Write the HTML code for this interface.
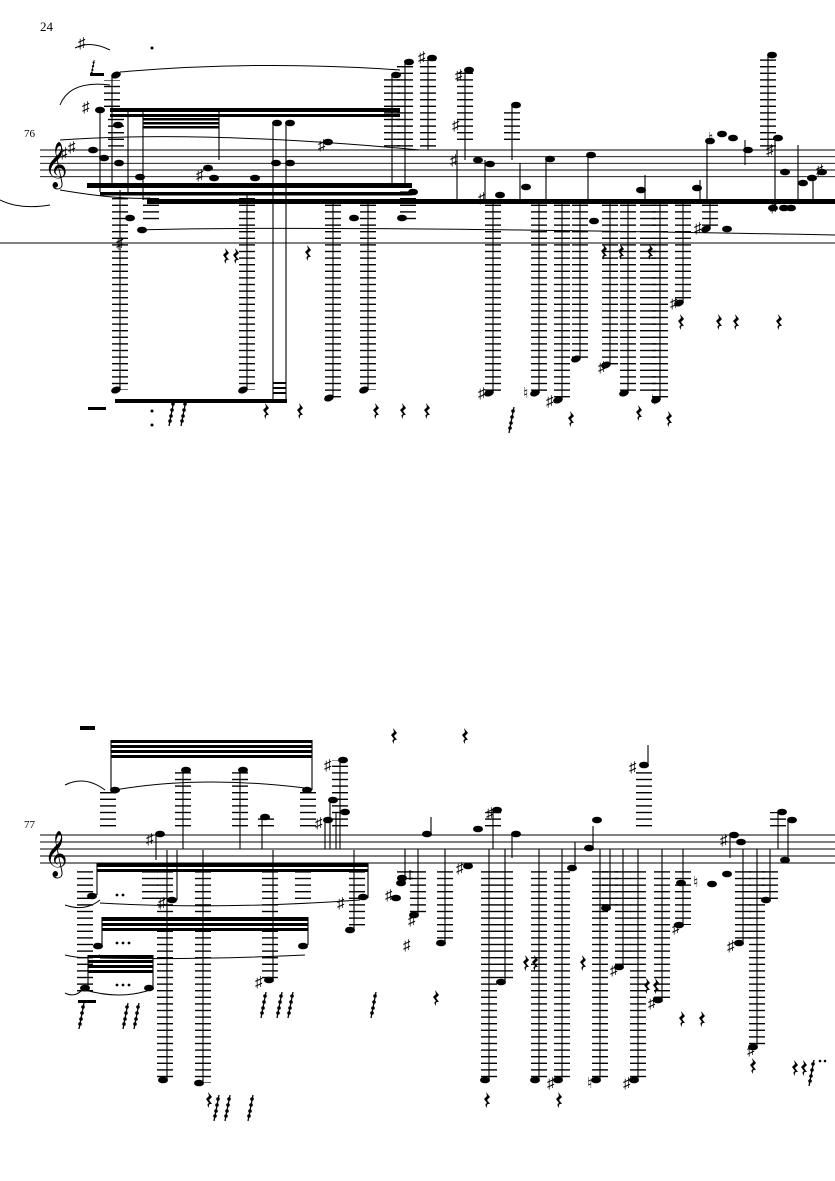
<!DOCTYPE html>
<html><head><meta charset="utf-8"><style>
html,body{margin:0;padding:0;background:#fff;}
svg{display:block;}
text{font-family:"Liberation Serif",serif;}
</style></head><body>
<svg width="835" height="1181" viewBox="0 0 835 1181" xmlns="http://www.w3.org/2000/svg">
<defs>
<pattern id="L" width="16" height="6.6" patternUnits="userSpaceOnUse"><rect width="16" height="1.4" fill="#000"/></pattern>
<symbol id="r" viewBox="0 0 8 16" overflow="visible"><path d="M2 0 L6 5 L3 8 L6 12 Q2 11 3 16 Q0 12 3 11 L0 7 L3 4 Z" fill="#000"/></symbol>
<symbol id="rs" viewBox="0 0 8 26" overflow="visible"><path d="M6 0 L1 26" stroke="#000" stroke-width="1.3"/><circle cx="5" cy="4" r="1.8"/><circle cx="4" cy="10" r="1.8"/><circle cx="3" cy="16" r="1.8"/><circle cx="2" cy="21" r="1.8"/></symbol>
</defs>
<g fill="#000" stroke="none">
<text x="40" y="31" font-size="13">24</text>
<text x="24" y="137" font-size="11">76</text>
<text x="24" y="828" font-size="11">77</text>
</g>
<!-- staff 1 -->
<g stroke="#000" stroke-width="0.9">
<line x1="40" y1="150" x2="835" y2="150"/><line x1="40" y1="156.7" x2="835" y2="156.7"/><line x1="40" y1="163.3" x2="835" y2="163.3"/><line x1="40" y1="170" x2="835" y2="170"/><line x1="40" y1="176.7" x2="835" y2="176.7"/>
<line x1="40" y1="835" x2="835" y2="835"/><line x1="40" y1="842" x2="835" y2="842"/><line x1="40" y1="849" x2="835" y2="849"/><line x1="40" y1="856" x2="835" y2="856"/><line x1="40" y1="863" x2="835" y2="863"/>
</g>
<text x="44" y="178" font-size="40" font-family="DejaVu Sans, sans-serif">𝄞</text>
<text x="44" y="867" font-size="40" font-family="DejaVu Sans, sans-serif">𝄞</text>
<!-- beams staff 1 -->
<g fill="#000">
<rect x="87" y="183" width="325" height="5"/>
<rect x="100" y="192" width="312" height="3.5"/>
<rect x="147" y="199" width="688" height="5"/>
<rect x="110" y="108" width="290" height="4"/><rect x="110" y="114" width="290" height="3"/>
<rect x="143" y="118" width="76" height="2.5"/><rect x="143" y="122" width="76" height="2.5"/><rect x="143" y="126" width="76" height="2.5"/>
<rect x="115" y="399" width="172" height="4"/>
<rect x="273" y="382" width="13" height="2"/><rect x="273" y="387" width="13" height="2"/><rect x="273" y="392" width="13" height="2"/>
</g>
<g fill="none" stroke="#000" stroke-width="1">
<line x1="0" y1="243" x2="835" y2="243"/>
<path d="M120 72 Q260 60 400 70"/><path d="M60 140 Q200 130 420 150"/><path d="M60 190 Q120 200 150 198"/><path d="M140 230 Q300 225 835 235"/><path d="M0 200 Q20 210 50 205"/><path d="M75 48 Q90 40 110 50"/><path d="M110 85 Q70 80 60 105"/>
</g>
<!-- ladders staff 1 -->
<g fill="url(#L)">
<rect x="112" y="192" width="16" height="198"/><rect x="239" y="194" width="16" height="196"/><rect x="325" y="204" width="16" height="194"/><rect x="360" y="204" width="16" height="186"/>
<rect x="485" y="204" width="16" height="189"/><rect x="531" y="204" width="16" height="189"/><rect x="554" y="204" width="16" height="196"/><rect x="572" y="204" width="16" height="155"/><rect x="602" y="204" width="16" height="161"/><rect x="620" y="204" width="16" height="189"/><rect x="652" y="204" width="16" height="196"/><rect x="675" y="204" width="16" height="99"/><rect x="702" y="204" width="16" height="25"/>
<rect x="143" y="194" width="16" height="30"/><rect x="400" y="188" width="16" height="35"/>
<rect x="104" y="80" width="16" height="30"/><rect x="108" y="118" width="16" height="30"/><rect x="384" y="78" width="16" height="72"/><rect x="397" y="62" width="16" height="88"/><rect x="420" y="60" width="16" height="90"/><rect x="457" y="70" width="16" height="73"/><rect x="504" y="107" width="16" height="36"/><rect x="760" y="55" width="16" height="95"/>
<rect x="640" y="204" width="16" height="189"/>
</g>
<g stroke="#000" stroke-width="1.1">
<line x1="120" y1="190" x2="120" y2="390"/><line x1="247" y1="194" x2="247" y2="390"/><line x1="333" y1="202" x2="333" y2="398"/><line x1="368" y1="202" x2="368" y2="390"/>
<line x1="493" y1="202" x2="493" y2="393"/><line x1="539" y1="202" x2="539" y2="393"/><line x1="562" y1="202" x2="562" y2="400"/><line x1="580" y1="202" x2="580" y2="359"/><line x1="610" y1="202" x2="610" y2="365"/><line x1="628" y1="202" x2="628" y2="393"/><line x1="660" y1="202" x2="660" y2="400"/><line x1="683" y1="202" x2="683" y2="303"/><line x1="710" y1="202" x2="710" y2="229"/>
<line x1="273" y1="122" x2="273" y2="400"/><line x1="286" y1="122" x2="286" y2="400"/>
<line x1="112" y1="77" x2="112" y2="183"/><line x1="392" y1="75" x2="392" y2="183"/><line x1="405" y1="60" x2="405" y2="183"/><line x1="428" y1="58" x2="428" y2="150"/><line x1="465" y1="70" x2="465" y2="160"/><line x1="512" y1="105" x2="512" y2="160"/><line x1="768" y1="55" x2="768" y2="150"/>
<line x1="100" y1="110" x2="100" y2="192"/><line x1="128" y1="110" x2="128" y2="192"/><line x1="143" y1="112" x2="143" y2="200"/><line x1="219" y1="112" x2="219" y2="160"/>
<line x1="457" y1="150" x2="457" y2="200"/><line x1="485" y1="160" x2="485" y2="200"/><line x1="520" y1="163" x2="520" y2="200"/><line x1="546" y1="157" x2="546" y2="200"/><line x1="588" y1="153" x2="588" y2="200"/><line x1="645" y1="175" x2="645" y2="200"/><line x1="700" y1="180" x2="700" y2="200"/><line x1="707" y1="140" x2="707" y2="200"/><line x1="745" y1="140" x2="745" y2="165"/><line x1="798" y1="145" x2="798" y2="200"/><line x1="775" y1="140" x2="775" y2="200"/><line x1="813" y1="178" x2="813" y2="200"/>
</g>
<g fill="#000">
<ellipse cx="116" cy="390" rx="5" ry="3.3" transform="rotate(-20 116 390)"/><ellipse cx="243" cy="390" rx="5" ry="3.3" transform="rotate(-20 243 390)"/><ellipse cx="329" cy="398" rx="5" ry="3.3" transform="rotate(-20 329 398)"/><ellipse cx="364" cy="390" rx="5" ry="3.3" transform="rotate(-20 364 390)"/>
<ellipse cx="489" cy="393" rx="5" ry="3.3" transform="rotate(-20 489 393)"/><ellipse cx="535" cy="393" rx="5" ry="3.3" transform="rotate(-20 535 393)"/><ellipse cx="558" cy="400" rx="5" ry="3.3" transform="rotate(-20 558 400)"/><ellipse cx="576" cy="359" rx="5" ry="3.3" transform="rotate(-20 576 359)"/><ellipse cx="606" cy="365" rx="5" ry="3.3" transform="rotate(-20 606 365)"/><ellipse cx="624" cy="393" rx="5" ry="3.3" transform="rotate(-20 624 393)"/><ellipse cx="656" cy="400" rx="5" ry="3.3" transform="rotate(-20 656 400)"/><ellipse cx="679" cy="303" rx="5" ry="3.3" transform="rotate(-20 679 303)"/><ellipse cx="706" cy="229" rx="5" ry="3.3" transform="rotate(-20 706 229)"/>
<ellipse cx="277" cy="123" rx="5" ry="3.3"/><ellipse cx="290" cy="123" rx="5" ry="3.3"/><ellipse cx="276" cy="163" rx="5" ry="3.3"/><ellipse cx="290" cy="163" rx="5" ry="3.3"/>
<ellipse cx="116" cy="75" rx="5" ry="3.3" transform="rotate(-20 116 75)"/><ellipse cx="396" cy="75" rx="5" ry="3.3"/><ellipse cx="409" cy="62" rx="5" ry="3.3"/><ellipse cx="432" cy="58" rx="5" ry="3.3"/><ellipse cx="469" cy="70" rx="5" ry="3.3"/><ellipse cx="516" cy="105" rx="5" ry="3.3"/><ellipse cx="772" cy="55" rx="5" ry="3.3"/>
<ellipse cx="100" cy="110" rx="5" ry="3.3"/><ellipse cx="118" cy="125" rx="5" ry="3.3"/><ellipse cx="93" cy="150" rx="5" ry="3.3"/><ellipse cx="104" cy="158" rx="5" ry="3.3"/><ellipse cx="119" cy="163" rx="5" ry="3.3"/><ellipse cx="140" cy="177" rx="5" ry="3.3"/><ellipse cx="214" cy="178" rx="5" ry="3.3"/><ellipse cx="208" cy="168" rx="5" ry="3.3"/><ellipse cx="255" cy="178" rx="5" ry="3.3"/><ellipse cx="328" cy="142" rx="5" ry="3.3"/>
<ellipse cx="130" cy="218" rx="5" ry="3.3"/><ellipse cx="142" cy="230" rx="5" ry="3.3"/><ellipse cx="354" cy="218" rx="5" ry="3.3"/><ellipse cx="402" cy="218" rx="5" ry="3.3"/><ellipse cx="413" cy="192" rx="5" ry="3.3"/>
<ellipse cx="478" cy="160" rx="5" ry="3.3"/><ellipse cx="490" cy="164" rx="5" ry="3.3"/><ellipse cx="500" cy="195" rx="5" ry="3.3"/><ellipse cx="526" cy="187" rx="5" ry="3.3"/><ellipse cx="550" cy="159" rx="5" ry="3.3"/><ellipse cx="591" cy="155" rx="5" ry="3.3"/><ellipse cx="594" cy="221" rx="5" ry="3.3"/><ellipse cx="641" cy="190" rx="5" ry="3.3"/><ellipse cx="697" cy="188" rx="5" ry="3.3"/><ellipse cx="710" cy="141" rx="5" ry="3.3"/><ellipse cx="722" cy="134" rx="5" ry="3.3"/><ellipse cx="733" cy="138" rx="5" ry="3.3"/><ellipse cx="748" cy="150" rx="5" ry="3.3"/><ellipse cx="778" cy="138" rx="5" ry="3.3"/><ellipse cx="785" cy="172" rx="5" ry="3.3"/><ellipse cx="773" cy="208" rx="5" ry="3.3"/><ellipse cx="784" cy="208" rx="5" ry="3.3"/><ellipse cx="791" cy="208" rx="5" ry="3.3"/><ellipse cx="803" cy="183" rx="5" ry="3.3"/><ellipse cx="812" cy="178" rx="5" ry="3.3"/><ellipse cx="822" cy="172" rx="5" ry="3.3"/><ellipse cx="727" cy="229" rx="5" ry="3.3"/>
</g>
<g font-size="15" fill="#000" font-family="DejaVu Sans, sans-serif">
<text x="82" y="112">♯</text><text x="60" y="158">♯</text><text x="68" y="152">♯</text><text x="116" y="248">♯</text><text x="196" y="180">♯</text><text x="318" y="150">♯</text><text x="418" y="62">♯</text><text x="455" y="80">♯</text><text x="452" y="130">♯</text><text x="450" y="165">♯</text><text x="478" y="203">♯</text><text x="478" y="398">♯</text><text x="523" y="398">♮</text><text x="546" y="406">♯</text><text x="598" y="372">♯</text><text x="651" y="405">♮</text><text x="670" y="308">♯</text><text x="694" y="233">♯</text><text x="708" y="143">♮</text><text x="766" y="155">♯</text><text x="770" y="212">♯</text><text x="816" y="175">♯</text><text x="78" y="48">♯</text>
</g>
<g>
<use href="#r" x="223" y="248" width="8" height="16"/><use href="#r" x="233" y="248" width="8" height="16"/><use href="#r" x="305" y="245" width="8" height="16"/>
<use href="#r" x="263" y="403" width="8" height="16"/><use href="#r" x="297" y="403" width="8" height="16"/><use href="#r" x="373" y="403" width="8" height="16"/><use href="#r" x="400" y="403" width="8" height="16"/><use href="#r" x="424" y="403" width="8" height="16"/>
<use href="#r" x="601" y="244" width="8" height="16"/><use href="#r" x="618" y="244" width="8" height="16"/><use href="#r" x="647" y="244" width="8" height="16"/>
<use href="#r" x="678" y="314" width="8" height="16"/><use href="#r" x="716" y="314" width="8" height="16"/><use href="#r" x="733" y="314" width="8" height="16"/><use href="#r" x="776" y="314" width="8" height="16"/>
<use href="#r" x="568" y="411" width="8" height="16"/><use href="#r" x="636" y="405" width="8" height="16"/><use href="#r" x="666" y="411" width="8" height="16"/>
<use href="#rs" x="508" y="407" width="8" height="26"/><use href="#rs" x="168" y="400" width="8" height="26"/><use href="#rs" x="180" y="400" width="8" height="26"/>
<use href="#rs" x="90" y="60" width="6" height="16"/>
</g>
<rect x="88" y="407" width="18" height="3" fill="#000"/><rect x="90" y="73" width="14" height="3" fill="#000"/>
<circle cx="152" cy="48" r="1.5"/><circle cx="152" cy="411" r="1.5"/><circle cx="152" cy="425" r="1.5"/>

<!-- staff 2 -->
<g fill="#000">
<rect x="80" y="726" width="15" height="4"/>
<rect x="111" y="740" width="201" height="3"/><rect x="111" y="745" width="201" height="3"/><rect x="111" y="750" width="201" height="3"/><rect x="111" y="755" width="201" height="3"/>
<rect x="97" y="863" width="271" height="4"/><rect x="97" y="869" width="271" height="3"/>
<rect x="102" y="917" width="206" height="4"/><rect x="102" y="923" width="206" height="3"/><rect x="102" y="928" width="206" height="3"/>
<rect x="88" y="955" width="65" height="3"/><rect x="88" y="960" width="65" height="3"/><rect x="88" y="965" width="65" height="3"/><rect x="88" y="970" width="65" height="3"/>
<rect x="78" y="1000" width="18" height="3"/>
</g>
<g fill="none" stroke="#000" stroke-width="1">
<path d="M65 785 Q85 775 105 790"/><path d="M115 790 Q200 775 305 788"/><path d="M65 905 Q85 912 100 900"/><path d="M100 903 Q220 910 360 900"/><path d="M65 955 Q85 960 100 955"/><path d="M100 958 Q200 960 305 955"/><path d="M65 993 Q75 998 82 990"/><path d="M85 990 Q120 1000 150 990"/>
</g>
<g fill="url(#L)">
<rect x="100" y="790" width="16" height="40"/><rect x="175" y="770" width="16" height="60"/><rect x="232" y="770" width="16" height="60"/><rect x="300" y="790" width="16" height="40"/><rect x="332" y="760" width="16" height="70"/><rect x="258" y="818" width="16" height="12"/>
<rect x="77" y="868" width="16" height="125"/><rect x="142" y="868" width="16" height="32"/><rect x="157" y="868" width="16" height="212"/><rect x="195" y="868" width="16" height="215"/><rect x="262" y="868" width="16" height="112"/><rect x="295" y="868" width="16" height="32"/><rect x="349" y="868" width="16" height="60"/>
<rect x="397" y="869" width="16" height="14"/><rect x="410" y="869" width="16" height="46"/><rect x="437" y="869" width="16" height="74"/><rect x="481" y="869" width="16" height="211"/><rect x="497" y="869" width="16" height="113"/><rect x="531" y="869" width="16" height="211"/><rect x="554" y="869" width="16" height="211"/><rect x="592" y="869" width="16" height="211"/><rect x="602" y="869" width="16" height="39"/><rect x="615" y="869" width="16" height="98"/><rect x="630" y="869" width="16" height="211"/><rect x="654" y="869" width="16" height="131"/><rect x="675" y="869" width="16" height="56"/><rect x="735" y="869" width="16" height="74"/><rect x="749" y="869" width="16" height="178"/><rect x="762" y="869" width="16" height="31"/>
<rect x="636" y="767" width="16" height="63"/><rect x="485" y="812" width="16" height="18"/><rect x="770" y="812" width="16" height="18"/>
</g>
<g stroke="#000" stroke-width="1.1">
<line x1="111" y1="740" x2="111" y2="790"/><line x1="312" y1="740" x2="312" y2="790"/><line x1="183" y1="770" x2="183" y2="849"/><line x1="240" y1="770" x2="240" y2="849"/><line x1="262" y1="818" x2="262" y2="849"/><line x1="325" y1="820" x2="325" y2="849"/><line x1="330" y1="800" x2="330" y2="849"/><line x1="336" y1="812" x2="336" y2="849"/><line x1="340" y1="760" x2="340" y2="849"/><line x1="156" y1="835" x2="156" y2="860"/>
<line x1="97" y1="863" x2="97" y2="895"/><line x1="102" y1="917" x2="102" y2="945"/><line x1="88" y1="955" x2="88" y2="988"/><line x1="153" y1="955" x2="153" y2="988"/><line x1="308" y1="917" x2="308" y2="945"/>
<line x1="167" y1="850" x2="167" y2="1080"/><line x1="177" y1="850" x2="177" y2="900"/><line x1="203" y1="850" x2="203" y2="1083"/><line x1="273" y1="850" x2="273" y2="980"/><line x1="354" y1="850" x2="354" y2="930"/><line x1="368" y1="863" x2="368" y2="898"/>
<line x1="405" y1="849" x2="405" y2="883"/><line x1="418" y1="849" x2="418" y2="915"/><line x1="445" y1="849" x2="445" y2="943"/><line x1="489" y1="849" x2="489" y2="1080"/><line x1="505" y1="849" x2="505" y2="982"/><line x1="539" y1="849" x2="539" y2="1080"/><line x1="562" y1="849" x2="562" y2="1080"/><line x1="600" y1="849" x2="600" y2="1080"/><line x1="610" y1="849" x2="610" y2="908"/><line x1="623" y1="849" x2="623" y2="967"/><line x1="638" y1="849" x2="638" y2="1080"/><line x1="662" y1="849" x2="662" y2="1000"/><line x1="683" y1="849" x2="683" y2="925"/><line x1="743" y1="849" x2="743" y2="943"/><line x1="757" y1="849" x2="757" y2="1047"/><line x1="770" y1="849" x2="770" y2="900"/>
<line x1="648" y1="745" x2="648" y2="765"/><line x1="431" y1="817" x2="431" y2="834"/><line x1="493" y1="810" x2="493" y2="849"/><line x1="512" y1="834" x2="512" y2="858"/><line x1="575" y1="842" x2="575" y2="867"/><line x1="593" y1="826" x2="593" y2="848"/><line x1="778" y1="812" x2="778" y2="849"/><line x1="730" y1="835" x2="730" y2="858"/><line x1="788" y1="820" x2="788" y2="860"/><line x1="410" y1="870" x2="410" y2="880"/>
</g>
<g fill="#000">
<ellipse cx="115" cy="790" rx="5" ry="3.3"/><ellipse cx="186" cy="770" rx="5" ry="3.3"/><ellipse cx="243" cy="770" rx="5" ry="3.3"/><ellipse cx="307" cy="790" rx="5" ry="3.3"/><ellipse cx="265" cy="817" rx="5" ry="3.3"/><ellipse cx="160" cy="834" rx="5" ry="3.3"/><ellipse cx="328" cy="820" rx="5" ry="3.3"/><ellipse cx="333" cy="800" rx="5" ry="3.3"/><ellipse cx="345" cy="812" rx="5" ry="3.3"/><ellipse cx="343" cy="760" rx="5" ry="3.3"/>
<ellipse cx="92" cy="896" rx="5" ry="3.3"/><ellipse cx="98" cy="946" rx="5" ry="3.3"/><ellipse cx="85" cy="988" rx="5" ry="3.3"/><ellipse cx="149" cy="988" rx="5" ry="3.3"/><ellipse cx="172" cy="900" rx="5" ry="3.3"/><ellipse cx="303" cy="946" rx="5" ry="3.3"/><ellipse cx="363" cy="897" rx="5" ry="3.3"/>
<ellipse cx="163" cy="1080" rx="5" ry="3.3"/><ellipse cx="199" cy="1083" rx="5" ry="3.3"/><ellipse cx="269" cy="980" rx="5" ry="3.3"/><ellipse cx="350" cy="930" rx="5" ry="3.3"/>
<ellipse cx="401" cy="883" rx="5" ry="3.3"/><ellipse cx="414" cy="915" rx="5" ry="3.3"/><ellipse cx="441" cy="943" rx="5" ry="3.3"/><ellipse cx="485" cy="1080" rx="5" ry="3.3"/><ellipse cx="501" cy="982" rx="5" ry="3.3"/><ellipse cx="535" cy="1080" rx="5" ry="3.3"/><ellipse cx="558" cy="1080" rx="5" ry="3.3"/><ellipse cx="596" cy="1080" rx="5" ry="3.3"/><ellipse cx="606" cy="908" rx="5" ry="3.3"/><ellipse cx="619" cy="967" rx="5" ry="3.3"/><ellipse cx="634" cy="1080" rx="5" ry="3.3"/><ellipse cx="658" cy="1000" rx="5" ry="3.3"/><ellipse cx="679" cy="925" rx="5" ry="3.3"/><ellipse cx="739" cy="943" rx="5" ry="3.3"/><ellipse cx="753" cy="1047" rx="5" ry="3.3"/><ellipse cx="766" cy="900" rx="5" ry="3.3"/>
<ellipse cx="644" cy="765" rx="5" ry="3.3"/><ellipse cx="427" cy="834" rx="5" ry="3.3"/><ellipse cx="497" cy="810" rx="5" ry="3.3"/><ellipse cx="516" cy="834" rx="5" ry="3.3"/><ellipse cx="468" cy="866" rx="5" ry="3.3"/><ellipse cx="478" cy="829" rx="5" ry="3.3"/><ellipse cx="572" cy="868" rx="5" ry="3.3"/><ellipse cx="589" cy="848" rx="5" ry="3.3"/><ellipse cx="597" cy="820" rx="5" ry="3.3"/><ellipse cx="681" cy="883" rx="5" ry="3.3"/><ellipse cx="712" cy="884" rx="5" ry="3.3"/><ellipse cx="727" cy="874" rx="5" ry="3.3"/><ellipse cx="734" cy="835" rx="5" ry="3.3"/><ellipse cx="741" cy="842" rx="5" ry="3.3"/><ellipse cx="782" cy="812" rx="5" ry="3.3"/><ellipse cx="792" cy="820" rx="5" ry="3.3"/><ellipse cx="785" cy="860" rx="5" ry="3.3"/><ellipse cx="402" cy="878" rx="5" ry="3.3"/><ellipse cx="396" cy="898" rx="5" ry="3.3"/>
</g>
<g font-size="15" fill="#000" font-family="DejaVu Sans, sans-serif">
<text x="146" y="844">♯</text><text x="158" y="908">♯</text><text x="255" y="987">♯</text><text x="324" y="770">♯</text><text x="315" y="828">♯</text><text x="337" y="908">♯</text><text x="385" y="900">♯</text><text x="403" y="950">♯</text><text x="408" y="925">♯</text><text x="456" y="873">♯</text><text x="486" y="818">♯</text><text x="629" y="772">♯</text><text x="672" y="933">♯</text><text x="610" y="975">♯</text><text x="648" y="1008">♯</text><text x="747" y="1055">♯</text><text x="720" y="845">♯</text><text x="693" y="887">♮</text><text x="587" y="1088">♮</text><text x="547" y="1088">♯</text><text x="623" y="1088">♯</text><text x="727" y="951">♯</text>
</g>
<g>
<use href="#r" x="391" y="728" width="8" height="16"/><use href="#r" x="462" y="728" width="8" height="16"/>
<use href="#r" x="523" y="955" width="8" height="16"/><use href="#r" x="532" y="955" width="8" height="16"/><use href="#r" x="580" y="955" width="8" height="16"/><use href="#r" x="433" y="990" width="8" height="16"/><use href="#r" x="644" y="978" width="8" height="16"/><use href="#r" x="653" y="978" width="8" height="16"/><use href="#r" x="679" y="1011" width="8" height="16"/><use href="#r" x="699" y="1011" width="8" height="16"/><use href="#r" x="750" y="1058" width="8" height="16"/><use href="#r" x="484" y="1092" width="8" height="16"/><use href="#r" x="556" y="1092" width="8" height="16"/><use href="#r" x="792" y="1060" width="8" height="16"/><use href="#r" x="801" y="1060" width="8" height="16"/>
<use href="#r" x="206" y="1092" width="8" height="16"/>
<use href="#rs" x="78" y="1003" width="8" height="26"/><use href="#rs" x="122" y="1003" width="8" height="26"/><use href="#rs" x="133" y="1003" width="8" height="26"/><use href="#rs" x="260" y="992" width="8" height="26"/><use href="#rs" x="276" y="992" width="8" height="26"/><use href="#rs" x="287" y="992" width="8" height="26"/><use href="#rs" x="370" y="992" width="8" height="26"/><use href="#rs" x="213" y="1095" width="8" height="26"/><use href="#rs" x="224" y="1095" width="8" height="26"/><use href="#rs" x="247" y="1095" width="8" height="26"/><use href="#rs" x="808" y="1060" width="8" height="26"/>
</g>
<g fill="#000"><circle cx="117" cy="895" r="1.4"/><circle cx="123" cy="895" r="1.4"/><circle cx="117" cy="943" r="1.4"/><circle cx="123" cy="943" r="1.4"/><circle cx="129" cy="943" r="1.4"/><circle cx="117" cy="985" r="1.4"/><circle cx="123" cy="985" r="1.4"/><circle cx="129" cy="985" r="1.4"/><circle cx="820" cy="1061" r="1.3"/><circle cx="825" cy="1061" r="1.3"/></g>
</svg>
</body></html>
